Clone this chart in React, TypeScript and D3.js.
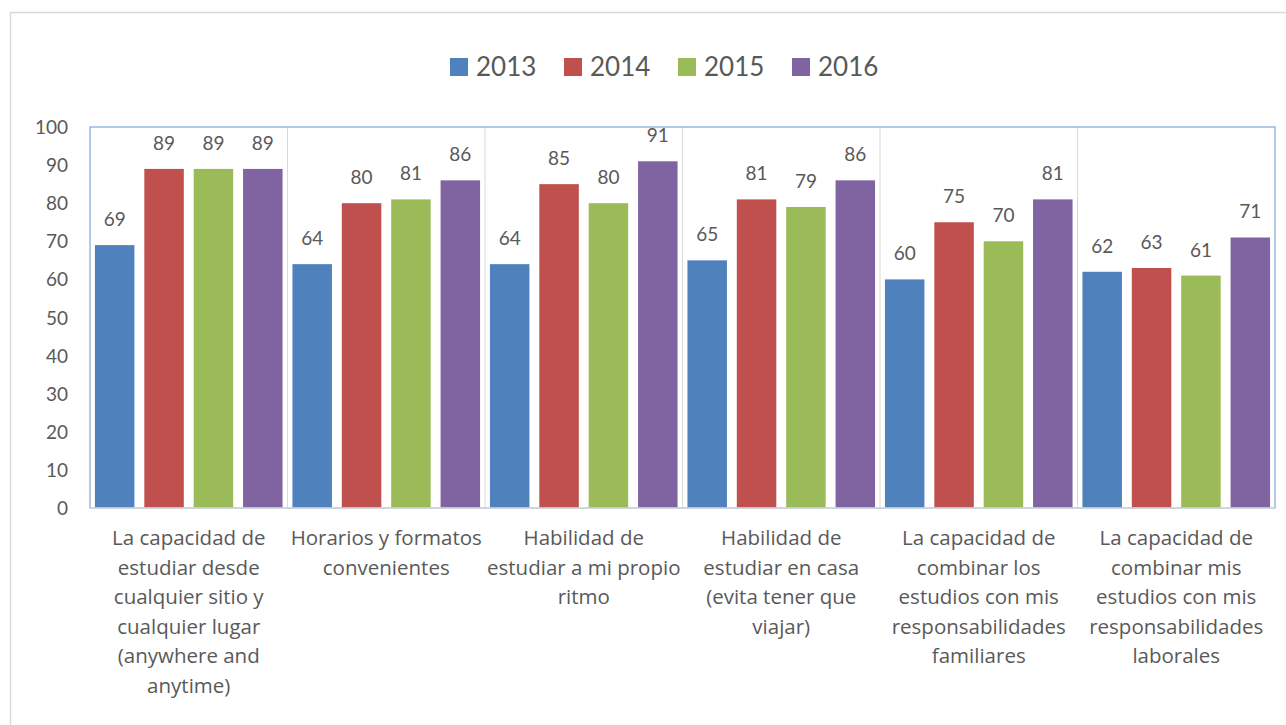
import React from "react";
import * as d3 from "d3";

const categories: string[][] = [
  ["La capacidad de", "estudiar desde", "cualquier sitio y", "cualquier lugar", "(anywhere and", "anytime)"],
  ["Horarios y formatos", "convenientes"],
  ["Habilidad de", "estudiar a mi propio", "ritmo"],
  ["Habilidad de", "estudiar en casa", "(evita tener que", "viajar)"],
  ["La capacidad de", "combinar los", "estudios con mis", "responsabilidades", "familiares"],
  ["La capacidad de", "combinar mis", "estudios con mis", "responsabilidades", "laborales"],
];
const seriesNames = ["2013", "2014", "2015", "2016"];
const v2013 = [69, 64, 64, 65, 60, 62];
const v2014 = [89, 80, 85, 81, 75, 63];
const v2015 = [89, 81, 80, 79, 70, 61];
const v2016 = [89, 86, 91, 86, 81, 71];
const seriesValues = [v2013, v2014, v2015, v2016];
const colors = ["#4f81bd", "#c0504d", "#9bbb59", "#8064a2"];
const yTicks = [0, 10, 20, 30, 40, 50, 60, 70, 80, 90, 100];

export default function App() {
  const W = 1286, H = 725;
  const left = 90, right = 1275, top = 127, bottom = 508;
  const font = "Lato, 'Open Sans', sans-serif";
  const labelFont = "'Open Sans', Lato, sans-serif";
  const textColor = "#595959";
  const x0 = d3.scaleBand<number>().domain(categories.map((_, i) => i)).range([left, right]).paddingInner(0).paddingOuter(0);
  const x1 = d3.scaleBand<number>().domain(seriesNames.map((_, i) => i)).range([0, x0.bandwidth()]).paddingInner(0.2).paddingOuter(0.1);
  const y = d3.scaleLinear().domain([0, 100]).range([bottom, top]);
  const legendX = d3.scaleLinear().domain([0, 1]).range([450, 564]);

  return (
    <svg width={W} height={H} style={{ position: "absolute", left: 0, top: 0, background: "#fff" }} fontFamily={font}>
      <rect x={10.5} y={12.5} width={1290} height={730} fill="#fff" stroke="#d9d9d9" strokeWidth={1.5} />
      {/* legend */}
      {seriesNames.map((s, i) => (
        <g key={s} transform={`translate(${legendX(i)},0)`}>
          <rect x={0} y={58} width={18} height={18} fill={colors[i]} />
          <text x={26} y={76} fontSize={26} fill={textColor}>{s}</text>
        </g>
      ))}
      {/* category separators */}
      {categories.slice(1).map((_, i) => (
        <line key={i} x1={x0(i + 1)!} x2={x0(i + 1)!} y1={top} y2={bottom} stroke="#d9d9d9" strokeWidth={1} />
      ))}
      {/* bars */}
      {seriesValues.map((vals, si) =>
        vals.map((v, ci) => {
          const bx = x0(ci)! + x1(si)!;
          return (
            <g key={`${si}-${ci}`}>
              <rect x={bx} y={y(v)} width={x1.bandwidth()} height={bottom - y(v)} fill={colors[si]} />
              <text x={bx + x1.bandwidth() / 2} y={y(v) - 19} textAnchor="middle" fontSize={19} fill={textColor}>{v}</text>
            </g>
          );
        })
      )}
      {/* plot border */}
      <rect x={left} y={top} width={right - left} height={bottom - top} fill="none" stroke="#7da7d9" strokeWidth={1.2} />
      <line x1={left} x2={right} y1={bottom} y2={bottom} stroke="#d9d9d9" strokeWidth={1.5} />
      {/* y ticks */}
      {yTicks.map((t) => (
        <text key={t} x={68} y={y(t) + 7} textAnchor="end" fontSize={19} fill={textColor}>{t}</text>
      ))}
      {/* x labels */}
      {categories.map((lines, ci) => (
        <text key={ci} textAnchor="middle" fontSize={20.5} fill={textColor} fontFamily={labelFont}>
          {lines.map((ln, li) => (
            <tspan key={li} x={x0(ci)! + x0.bandwidth() / 2} y={545 + li * 29.5}>{ln}</tspan>
          ))}
        </text>
      ))}
    </svg>
  );
}
